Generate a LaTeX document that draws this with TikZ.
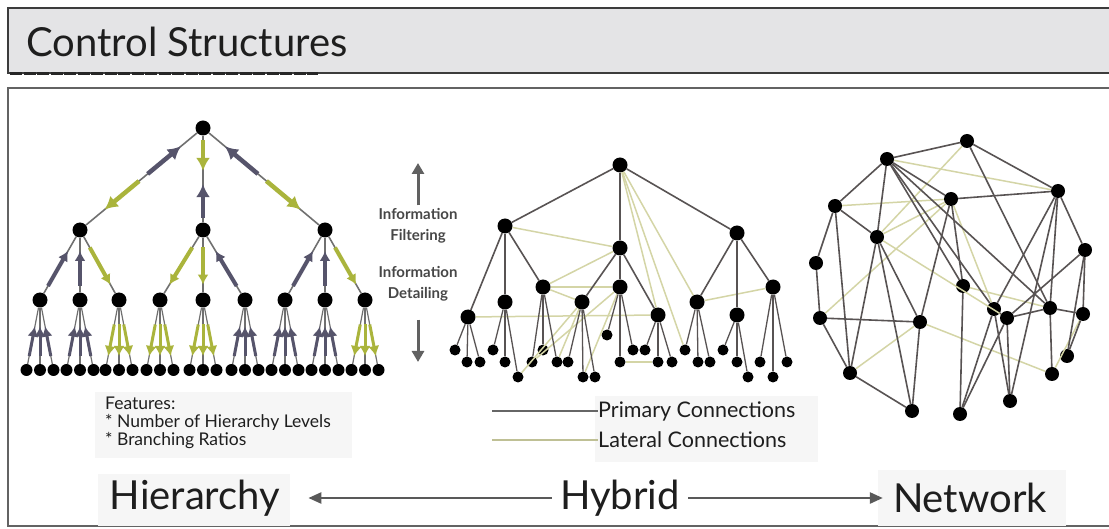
\documentclass[tikz,border=0pt]{standalone}
\usepackage{fontspec}
\setmainfont{Lato}
\usetikzlibrary{arrows.meta,calc}
\definecolor{titlefill}{HTML}{E4E4E6}
\definecolor{frame}{HTML}{3C3C3C}
\definecolor{edgegray}{HTML}{707070}
\definecolor{arrdark}{HTML}{56546B}
\definecolor{arrgreen}{HTML}{AAB43C}
\definecolor{prim}{HTML}{585353}
\definecolor{lat}{HTML}{D4D5A6}
\definecolor{txt}{HTML}{1E1E1E}
\definecolor{faint}{HTML}{F6F6F6}
\tikzset{
 hn/.style={circle,fill=black,inner sep=0pt,minimum size=15pt},
 hl/.style={circle,fill=black,inner sep=0pt,minimum size=12pt},
 yl/.style={circle,fill=black,inner sep=0pt,minimum size=11pt},
 nn/.style={circle,fill=black,inner sep=0pt,minimum size=14pt},
 hedge/.style={draw=edgegray,line width=1.6pt},
 darr/.style={draw=arrdark,line width=3.5pt,-{Latex[length=10pt,width=11pt]}},
 garr/.style={draw=arrgreen,line width=3.5pt,-{Latex[length=10pt,width=11pt]}},
 bdarr/.style={draw=arrdark,line width=4.5pt,-{Latex[length=13pt,width=14pt]}},
 bgarr/.style={draw=arrgreen,line width=4.5pt,-{Latex[length=13pt,width=14pt]}},
 pline/.style={draw=prim,line width=1.6pt},
 lline/.style={draw=lat,line width=1.5pt},
 infoarr/.style={draw=black!62,line width=3pt,-{Triangle[length=11pt,width=12pt]}},
 bigarr/.style={draw=black!65,line width=2.5pt,-{Triangle[length=13pt,width=11pt]}},
 small/.style={font=\fontsize{17.5}{19}\selectfont,text=txt,inner sep=0pt},
 legend/.style={font=\fontsize{21.5}{23}\selectfont,text=txt,inner sep=0pt},
 big/.style={font=\fontsize{40}{44}\selectfont,text=txt,inner sep=0pt},
}
\begin{document}
\begin{tikzpicture}[x=1pt,y=-1pt]
\useasboundingbox (0,0) rectangle (1109,529);
\fill[white] (0,0) rectangle (1109,529);
% frames
\draw[fill=titlefill,draw=frame,line width=2pt] (8,8) rectangle (1130,73);
\draw[dash pattern=on 12pt off 1.5pt,line width=3pt,black!85] (10,74) -- (318,74);
\draw[fill=white,draw=frame!80,line width=2pt] (8,88) rectangle (1130,526);
\node[anchor=west,font=\fontsize{40}{44}\selectfont,text=txt,inner sep=0pt] (title) at (26,42) {Control Structures};
% faint backgrounds
\fill[faint] (95,392) rectangle (352,458);
\fill[faint] (595,396) rectangle (818,462);
\fill[faint] (98,474) rectangle (290,526);
\fill[faint] (878,470) rectangle (1066,526);

% ---------------- Hierarchy ----------------
\node[hn] (r) at (203,128) {};
\node[hn] (a1) at (80,230) {};
\node[hn] (a2) at (203,230) {};
\node[hn] (a3) at (325,230) {};
\foreach \j/\x in {1/40,2/80,3/119,4/160,5/203,6/245,7/285,8/325,9/365}{
  \node[hn] (b\j) at (\x,300) {};
  \foreach \k/\d in {1/-13.5,2/0,3/13.5}{\node[hl] (c\j\k) at (\x+\d,370) {};}
}
\foreach \p in {a1,a2,a3} \draw[hedge] (r) -- (\p);
\foreach \p/\c in {a1/b1,a1/b2,a1/b3,a2/b4,a2/b5,a2/b6,a3/b7,a3/b8,a3/b9} \draw[hedge] (\p) -- (\c);
\foreach \j in {1,...,9}{\foreach \k in {1,2,3}{\draw[hedge,line width=1.2pt] (b\j) -- (c\j\k);}}
% root arrows
\draw[bdarr] ($(r)!0.45!(a1)$) -- ($(r)!0.18!(a1)$);
\draw[bgarr] ($(r)!0.52!(a1)$) -- ($(r)!0.8!(a1)$);
\draw[bgarr] ($(r)!0.12!(a2)$) -- ($(r)!0.42!(a2)$);
\draw[bdarr] ($(r)!0.88!(a2)$) -- ($(r)!0.55!(a2)$);
\draw[bdarr] ($(r)!0.45!(a3)$) -- ($(r)!0.18!(a3)$);
\draw[bgarr] ($(r)!0.52!(a3)$) -- ($(r)!0.8!(a3)$);
% level 1 arrows
\foreach \p/\c in {a1/b1,a1/b2,a2/b6,a3/b7,a3/b8} \draw[darr,line width=4pt] ($(\c)!0.2!(\p)$) -- ($(\c)!0.7!(\p)$);
\foreach \p/\c in {a1/b3,a2/b4,a2/b5,a3/b9} \draw[garr,line width=4pt] ($(\p)!0.25!(\c)$) -- ($(\p)!0.78!(\c)$);
% leaf arrows
\foreach \j in {1,2,6,7,8}{\foreach \k in {1,2,3}{\draw[darr,line width=3pt] ($(c\j\k)!0.2!(b\j)$) -- ($(c\j\k)!0.62!(b\j)$);}}
\foreach \j in {3,4,5,9}{\foreach \k in {1,2,3}{\draw[garr,line width=3pt] ($(b\j)!0.35!(c\j\k)$) -- ($(b\j)!0.8!(c\j\k)$);}}

% info arrows
\node[small,align=center,font=\fontsize{15}{21}\selectfont\bfseries,text=black!72] (filt) at (418,226) {Information\\Filtering};
\node[small,align=center,font=\fontsize{15}{21}\selectfont\bfseries,text=black!72] (detl) at (418,284) {Information\\Detailing};
\coordinate (fu1) at (418,163);
\coordinate (fd1) at (418,362);
\draw[infoarr] (filt.north) ++(0,-3) coordinate (fu0) (fu0) -- (fu1);
\draw[infoarr] (detl.south) ++(0,18) coordinate (fd0) (fd0) -- (fd1);

% ---------------- Hybrid ----------------
\node[hn] (h0) at (620,165) {};
\node[hn] (h1) at (505,226) {};
\node[hn] (h2) at (620,248) {};
\node[hn] (h3) at (737,233) {};
\foreach \n/\x/\y in {1/468/317,2/505/302,3/543/287,4/582/302,5/620/287,6/658/315,7/697/302,8/737/315,9/773/287}
  \node[hn] (m\n) at (\x,\y) {};
\foreach \n/\x/\y in {1/455/350,2/467/362,3/480/362,4/493/350,5/505/362,6/518/377,7/532/362,8/543/350,9/557/362,
  10/568/362,11/583/377,12/595/377,13/607/335,14/620/362,15/633/350,16/645/350,17/658/362,18/672/362,
  19/685/350,20/698/362,21/710/362,22/723/350,23/737/362,24/748/377,25/760/362,26/773/377,27/787/362}
  \node[yl] (l\n) at (\x,\y) {};
% lateral
\foreach \a/\b in {h1/h2,h0/m6,h0/m7,h0/l19,h2/m3,m1/m6,m7/m9,m3/m4,m4/l6,m5/l7,l14/l17,m4/l9,m5/l11,m3/m5}
  \draw[lline] (\a) -- (\b);
% primary
\foreach \a/\b in {h0/h1,h0/h2,h0/h3,h1/m1,h1/m2,h1/m3,h2/m4,h2/m5,h2/m6,h3/m7,h3/m8,h3/m9}
  \draw[pline] (\a) -- (\b);
\foreach \m/\p/\q/\r in {1/1/2/3,2/4/5/6,3/7/8/9,4/10/11/12,5/13/14/15,6/16/17/18,7/19/20/21,8/22/23/24,9/25/26/27}{
  \draw[pline,line width=1.3pt] (m\m) -- (l\p);
  \draw[pline,line width=1.3pt] (m\m) -- (l\q);
  \draw[pline,line width=1.3pt] (m\m) -- (l\r);
}

% ---------------- Network ----------------
\foreach \n/\x/\y in {1/967/141,2/887/159,3/1058/191,4/835/206,5/951/199,6/877/237,7/1085/250,8/816/263,
  9/963/286,10/820/318,11/920/322,12/994/309,13/1007/318,14/1050/308,15/1083/314,16/1067/356,
  17/850/373,18/1052/374,19/1010/401,20/912/411,21/960/414}
  \node[nn] (n\n) at (\x,\y) {};
\foreach \a/\b in {4/5,6/5,2/3,1/6,11/18,6/13,17/11,5/12,15/18,9/14,10/5}
  \draw[lline] (n\a) -- (n\b);
\foreach \a/\b in {2/1,1/3,2/4,2/6,2/5,2/9,2/14,1/14,5/3,3/12,3/14,3/7,3/19,4/8,4/6,4/17,8/10,10/11,10/17,
  6/11,6/20,11/20,17/20,5/11,5/9,9/21,12/21,13/21,12/13,13/14,14/15,7/15,7/16,15/16,14/18,13/19,12/19,7/13,2/12,6/17}
  \draw[pline] (n\a) -- (n\b);

% ---------------- bottom ----------------
\node[small,anchor=west] (feat) at (105,403) {Features:};
\node[small,anchor=west] (feat1) at (105,422) {* Number of Hierarchy Levels};
\node[small,anchor=west] (feat2) at (105,441) {* Branching Ratios};

\node[legend,anchor=west] (primt) at (598,411) {Primary Connections};
\node[legend,anchor=west] (latt) at (598,440) {Lateral Connections};
\coordinate (pl0) at (492,411);
\coordinate (ll0) at (492,440);
\draw[draw=black!60,line width=2.5pt] (pl0) -- (primt.west);
\draw[draw=lat!90!black,line width=2.5pt] (ll0) -- (latt.west);

\node[big] (hier) at (195,498) {Hierarchy};
\node[big] (hyb) at (620,498) {Hybrid};
\node[big] (netw) at (970,498) {Network};
\draw[bigarr] ([xshift=-8pt]hyb.west) -- ([xshift=28pt]hier.east);
\draw[bigarr] ([xshift=8pt]hyb.east) -- ([xshift=-10pt]netw.west);
\end{tikzpicture}
\end{document}
